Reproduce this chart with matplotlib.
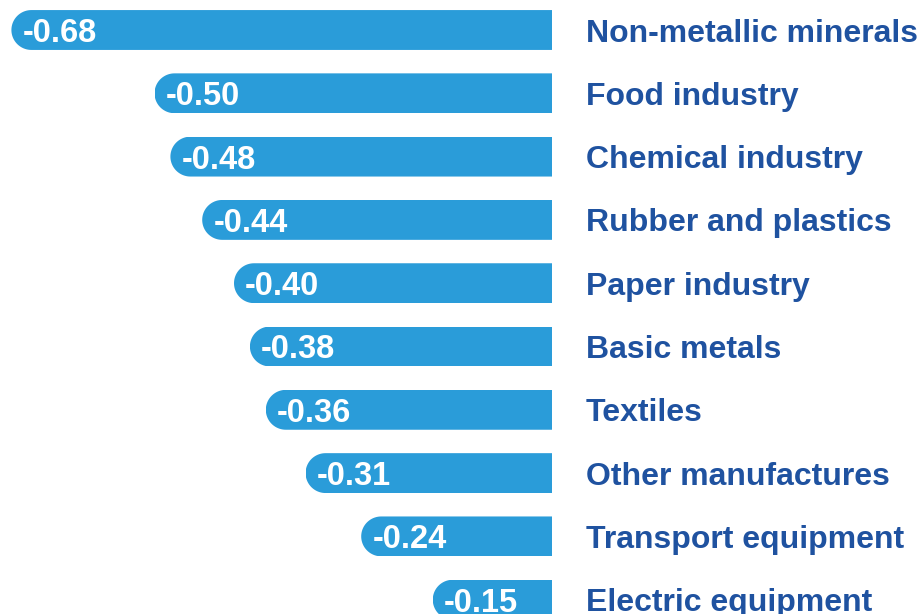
import matplotlib.pyplot as plt
import numpy as np
from matplotlib.path import Path
from matplotlib.patches import PathPatch

# Elasticity by industry
industries = ['Non-metallic minerals', 'Food industry', 'Chemical industry',
              'Rubber and plastics', 'Paper industry', 'Basic metals',
              'Textiles', 'Other manufactures', 'Transport equipment',
              'Electric equipment']
values = [-0.68, -0.50, -0.48, -0.44, -0.40, -0.38, -0.36, -0.31, -0.24, -0.15]

BAR_COLOR = '#2a9cd9'
TEXT_COLOR = '#1f52a0'

plt.rcParams['font.family'] = ['Liberation Sans', 'DejaVu Sans']

fig = plt.figure(figsize=(9.21, 6.14), dpi=100)
ax = fig.add_axes([0, 0, 1, 1])

px_per_unit = 795.0
row_px = 63.3
ax.set_xlim(-552 / px_per_unit, (921 - 552) / px_per_unit)
ax.set_ylim((614 - 30) / row_px, -30 / row_px)
ax.axis('off')

y = np.arange(len(values))
bar_h = 0.63
bars = ax.barh(y, values, height=bar_h, color=BAR_COLOR, edgecolor='none')

# Round the left end of each bar with a half-ellipse clip shape
rx = 20 / px_per_unit
for rect in bars:
    x0 = rect.get_x() + rect.get_width()
    xl = min(rect.get_x(), x0)
    yc = rect.get_y() + rect.get_height() / 2
    hh = rect.get_height() / 2
    t = np.linspace(np.pi / 2, 3 * np.pi / 2, 40)
    arc = [(xl + rx + rx * np.cos(a), yc - hh * np.sin(a)) for a in t]
    verts = [(0.01, yc - hh), (xl + rx, yc - hh)] + arc + [(xl + rx, yc + hh), (0.01, yc + hh), (0.01, yc - hh)]
    codes = [Path.MOVETO] + [Path.LINETO] * (len(verts) - 2) + [Path.CLOSEPOLY]
    clip = PathPatch(Path(verts, codes), transform=ax.transData)
    rect.set_clip_path(clip)

for yi, v, name in zip(y, values, industries):
    ax.annotate(f'{v:.2f}', xy=(v, yi), xytext=(8, 0), textcoords='offset points',
                ha='left', va='center_baseline', color='white',
                fontsize=23.5, fontweight='bold')
    ax.annotate(name, xy=(0, yi), xytext=(24.5, 0), textcoords='offset points',
                ha='left', va='center_baseline', color=TEXT_COLOR,
                fontsize=23, fontweight='bold')

fig.savefig('out.png', dpi=100, facecolor='white')
